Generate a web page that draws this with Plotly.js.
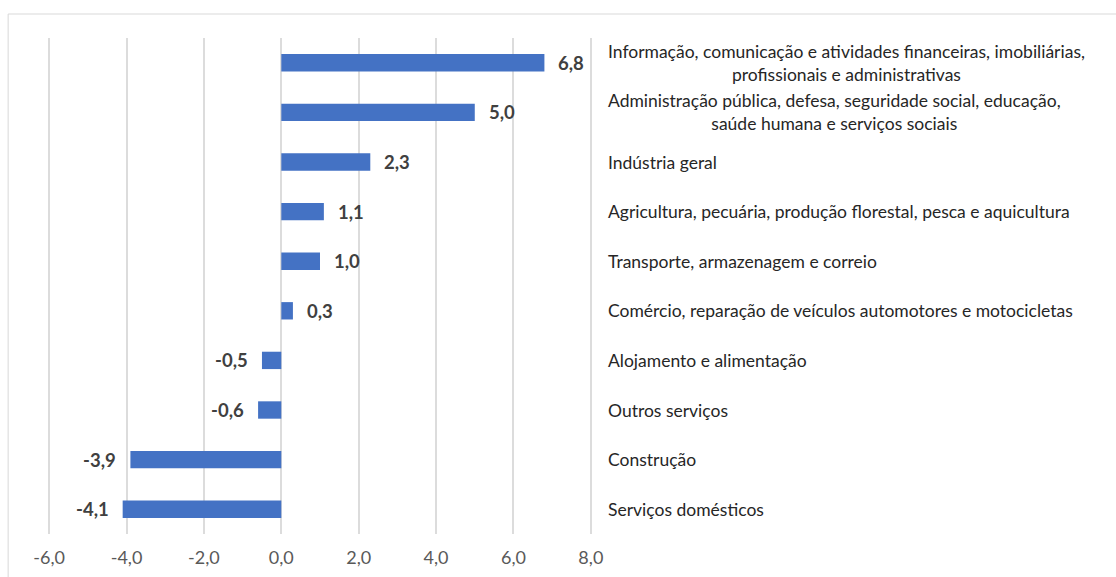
<!DOCTYPE html>
<html>
<head>
<meta charset="utf-8">
<script src="https://cdn.plot.ly/plotly-3.0.1.min.js"></script>
<style>
html,body{margin:0;padding:0;background:#fff;}
#chart{width:1116px;height:577px;}
</style>
</head>
<body>
<div id="chart"></div>
<script>
var categories = [
  "Informação, comunicação e atividades financeiras, imobiliárias,<br>profissionais e administrativas",
  "Administração pública, defesa, seguridade social, educação,<br>saúde humana e serviços sociais",
  "Indústria geral",
  "Agricultura, pecuária, produção florestal, pesca e aquicultura",
  "Transporte, armazenagem e correio",
  "Comércio, reparação de veículos automotores e motocicletas",
  "Alojamento e alimentação",
  "Outros serviços",
  "Construção",
  "Serviços domésticos"
];
var values = [6.8, 5.0, 2.3, 1.1, 1.0, 0.3, -0.5, -0.6, -3.9, -4.1];
var tickVals = [-6, -4, -2, 0, 2, 4, 6, 8];
var tickText = ["-6,0", "-4,0", "-2,0", "0,0", "2,0", "4,0", "6,0", "8,0"];

function fmt(v) { return v.toFixed(1).replace('.', ','); }

var FONT = "Lato, 'Open Sans', sans-serif";

// pixel geometry
var PX_PER_UNIT = 541.5 / 14;
var PAD = 0.03;                       // small range padding so edge gridlines show
var padPx = PAD * PX_PER_UNIT;
var L = 49 - padPx;
var W = 541.5 + 2 * padPx;
var T = 38, H = 496;

var trace = {
  type: 'bar',
  orientation: 'h',
  x: values,
  y: categories,
  width: 0.35,
  marker: {color: '#4472C4'},
  hoverinfo: 'x+y'
};

var annotations = [];
categories.forEach(function (c, i) {
  annotations.push({
    xref: 'paper', yref: 'y',
    x: (606 - L) / W, y: c,
    text: c,
    showarrow: false,
    xanchor: 'left', yanchor: 'middle',
    align: 'center',
    font: {family: FONT, size: 17.5, color: '#262626'}
  });
  var v = values[i];
  annotations.push({
    xref: 'x', yref: 'y',
    x: v, y: c,
    text: '<b>' + fmt(v) + '</b>',
    showarrow: false,
    xanchor: v >= 0 ? 'left' : 'right',
    yanchor: 'middle',
    xshift: v >= 0 ? 12 : -12,
    font: {family: FONT, size: 18.5, color: '#404040'}
  });
});

var layout = {
  width: 1116, height: 577,
  margin: {l: L, r: 1116 - L - W, t: T, b: 577 - T - H},
  paper_bgcolor: '#ffffff',
  plot_bgcolor: '#ffffff',
  showlegend: false,
  bargap: 0.65,
  xaxis: {
    range: [-6 - PAD, 8 + PAD],
    tickvals: tickVals,
    ticktext: tickText,
    showgrid: true,
    gridcolor: '#DCDCDC',
    gridwidth: 2,
    zeroline: true,
    zerolinecolor: '#DCDCDC',
    zerolinewidth: 2,
    showline: false,
    ticks: '',
    ticklabelstandoff: 11,
    tickfont: {family: FONT, size: 18, color: '#595959'},
    fixedrange: true
  },
  yaxis: {
    autorange: 'reversed',
    showticklabels: false,
    showgrid: false,
    zeroline: false,
    showline: false,
    ticks: '',
    fixedrange: true
  },
  shapes: [{
    type: 'rect', xref: 'paper', yref: 'paper',
    x0: (8 - L) / W, x1: (1125 - L) / W,
    y0: (T + H - 590) / H, y1: (T + H - 14) / H,
    line: {color: '#D9D9D9', width: 1},
    fillcolor: 'rgba(0,0,0,0)',
    layer: 'below'
  }],
  annotations: annotations
};

Plotly.newPlot('chart', [trace], layout, {displayModeBar: false, staticPlot: true});
</script>
</body>
</html>
